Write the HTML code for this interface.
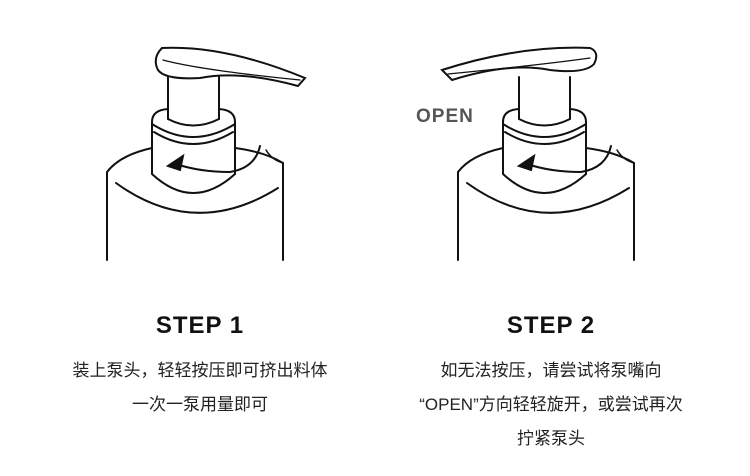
<!DOCTYPE html>
<html><head><meta charset="utf-8"><style>
body{margin:0;width:750px;height:476px;background:#fff;overflow:hidden;position:relative;font-family:"Liberation Sans","Noto Sans CJK SC",sans-serif;}
.t{position:absolute;text-align:center;color:#222;}
.h{font-size:24px;font-weight:bold;letter-spacing:1px;color:#111;}
.c{font-size:17px;line-height:34px;}
</style></head><body>
<svg width="750" height="476" style="position:absolute;left:0;top:0" fill="none" stroke="#111" stroke-width="2" stroke-linecap="round">
<defs>
<g id="bot">
<path d="M107,260 L107,172 Q120,155 152,148"/>
<path d="M235,148 Q265,152 283,163 L283,260"/>
<path d="M116,183 Q195,240 278,188"/>
<path d="M152,122 L152,174 Q193,212 235,174 L235,122"/>
<path d="M152,122 Q152,110 168,109 M219,109 Q235,110 235,122"/>
<path d="M152,124 Q193,150 235,124"/>
<path d="M154,132 Q193,156 233,132"/>
<path d="M168,77 L168,119 Q193,132 219,119 L219,77"/>
<path d="M260,146 Q255,168 230,172 Q200,172 176,164" />
<path d="M266,150 Q272,160 283,163" stroke-width="1.5"/>
<path d="M168,166 L183,156 L180,170 Z" fill="#111"/>
</g>
</defs>
<use href="#bot"/>
<path d="M162,48 Q225,45 305,78 L298,86 Q240,70 200,78 Q165,80 158,70 Q152,58 162,48 Z"/>
<path d="M163,60 Q200,70 300,80" stroke-width="1.3"/>
<use href="#bot" transform="translate(351,0)"/>
<path d="M590,48 Q520,45 442,70 L452,80 Q510,62 550,70 Q585,74 594,64 Q600,52 590,48 Z"/>
<path d="M590,58 Q540,65 448,74" stroke-width="1.3"/>
</svg>
<div class="t" style="top:106px;width:95px;font-size:19px;font-weight:bold;color:#555;letter-spacing:1px;text-align:left;left:416px">OPEN</div>
<div class="t h" style="left:100px;top:312px;width:200px">STEP 1</div>
<div class="t h" style="left:451px;top:312px;width:200px">STEP 2</div>
<div class="t c" style="left:0;top:354px;width:400px">装上泵头，轻轻按压即可挤出料体<br>一次一泵用量即可</div>
<div class="t c" style="left:351px;top:354px;width:400px">如无法按压，请尝试将泵嘴向<br>“OPEN”方向轻轻旋开，或尝试再次<br>拧紧泵头</div>
</body></html>
